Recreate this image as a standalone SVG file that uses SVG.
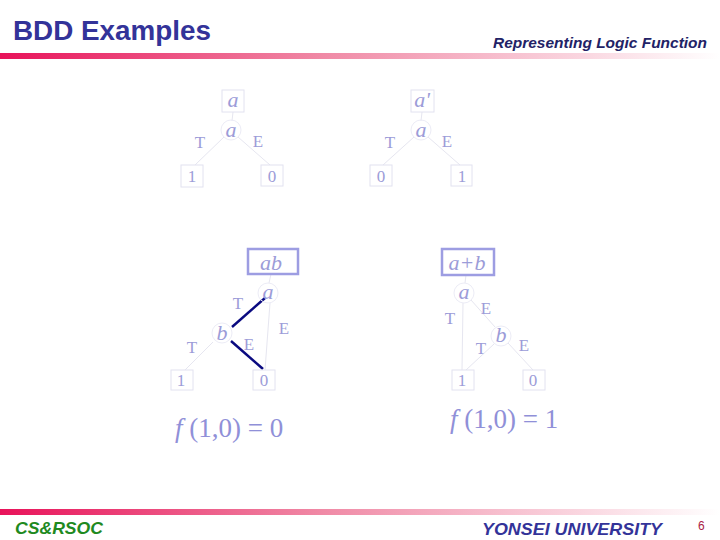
<svg xmlns="http://www.w3.org/2000/svg" width="720" height="540" viewBox="0 0 720 540">
<defs>
<linearGradient id="bar" x1="0" y1="0" x2="1" y2="0">
<stop offset="0" stop-color="#e8135a"/>
<stop offset="0.45" stop-color="#f08aa6"/>
<stop offset="1" stop-color="#ffffff"/>
</linearGradient>
<style>
.lbl{font-family:"Liberation Serif",serif;fill:#9c9cd8;font-size:17px}
.var{font-family:"Liberation Serif",serif;font-style:italic;fill:#9c9cd8;font-size:22px}
.box{fill:none;stroke:#e2e2f0;stroke-width:1}
.fbox{fill:none;stroke:#9d9de2;stroke-width:2.5}
.circ{fill:none;stroke:#ececf6;stroke-width:1}
.edge{stroke:#e6e6f0;stroke-width:1;fill:none}
.hot{stroke:#0a0a80;stroke-width:2.5;fill:none}
.fx{font-family:"Liberation Serif",serif;fill:#9090d8;font-size:27px}
</style>
</defs>
<rect width="720" height="540" fill="#ffffff"/>
<g id="header">
<text x="13" y="40" font-family="Liberation Sans,Arial,sans-serif" font-weight="bold" font-size="27" fill="#333399" textLength="198" lengthAdjust="spacingAndGlyphs">BDD Examples</text>
<text x="493" y="48" font-family="Liberation Sans,Arial,sans-serif" font-weight="bold" font-style="italic" font-size="15" fill="#222266" textLength="214" lengthAdjust="spacingAndGlyphs">Representing Logic Function</text>
<rect x="0" y="53" width="720" height="6" fill="url(#bar)"/>
</g>
<g id="connectors">
<line class="edge" x1="233" y1="112" x2="232" y2="121"/>
<line class="edge" x1="224" y1="137" x2="195" y2="165"/>
<line class="edge" x1="238" y1="137" x2="270" y2="165"/>
<line class="edge" x1="422" y1="112" x2="421" y2="121"/>
<line class="edge" x1="414" y1="137" x2="383" y2="165"/>
<line class="edge" x1="428" y1="137" x2="460" y2="165"/>
<line class="edge" x1="271" y1="274" x2="269" y2="283"/>
<line class="edge" x1="270" y1="303" x2="265" y2="370"/>
<line class="edge" x1="213" y1="342" x2="185" y2="370"/>
<line class="hot" x1="265" y1="298" x2="232" y2="327"/>
<line class="hot" x1="231" y1="341" x2="263" y2="369"/>
<line class="edge" x1="466" y1="275" x2="465" y2="283"/>
<line class="edge" x1="463" y1="303" x2="462" y2="370"/>
<line class="edge" x1="471" y1="300" x2="495" y2="327"/>
<line class="edge" x1="494" y1="344" x2="466" y2="370"/>
<line class="edge" x1="508" y1="343" x2="533" y2="370"/>
</g>
<g id="tree1">
<rect class="box" x="222" y="90" width="22" height="22"/>
<text class="var" x="233" y="107" text-anchor="middle">a</text>
<circle class="circ" cx="231" cy="130" r="10"/>
<text class="var" x="231" y="137" text-anchor="middle">a</text>
<text class="lbl" x="200" y="148" text-anchor="middle">T</text>
<text class="lbl" x="258" y="147" text-anchor="middle">E</text>
<rect class="box" x="181" y="165" width="22" height="22"/>
<text class="lbl" x="192" y="182" text-anchor="middle">1</text>
<rect class="box" x="261" y="165" width="22" height="21"/>
<text class="lbl" x="272" y="182" text-anchor="middle">0</text>
</g>
<g id="tree2">
<rect class="box" x="411" y="90" width="23" height="22"/>
<text class="var" x="422" y="107" text-anchor="middle">a'</text>
<circle class="circ" cx="421" cy="130" r="10"/>
<text class="var" x="421" y="137" text-anchor="middle">a</text>
<text class="lbl" x="390" y="148" text-anchor="middle">T</text>
<text class="lbl" x="447" y="147" text-anchor="middle">E</text>
<rect class="box" x="370" y="165" width="22" height="21"/>
<text class="lbl" x="381" y="182" text-anchor="middle">0</text>
<rect class="box" x="451" y="165" width="21" height="21"/>
<text class="lbl" x="462" y="182" text-anchor="middle">1</text>
</g>
<g id="tree3">
<rect class="fbox" x="248" y="249" width="50" height="25"/>
<text class="var" x="271" y="270" text-anchor="middle">ab</text>
<circle class="circ" cx="268" cy="293" r="10"/>
<text class="var" x="268" y="299" text-anchor="middle">a</text>
<text class="lbl" x="238" y="309" text-anchor="middle">T</text>
<text class="lbl" x="284" y="334" text-anchor="middle">E</text>
<circle class="circ" cx="222" cy="333" r="10"/>
<text class="var" x="222" y="340" text-anchor="middle">b</text>
<text class="lbl" x="192" y="353" text-anchor="middle">T</text>
<text class="lbl" x="249" y="350" text-anchor="middle">E</text>
<rect class="box" x="171" y="370" width="22" height="20"/>
<text class="lbl" x="181" y="386" text-anchor="middle">1</text>
<rect class="box" x="253" y="370" width="22" height="20"/>
<text class="lbl" x="264" y="386" text-anchor="middle">0</text>
<text class="fx" x="175" y="437"><tspan font-style="italic">f</tspan> (1,0) = 0</text>
</g>
<g id="tree4">
<rect class="fbox" x="442" y="249" width="52" height="26"/>
<text class="var" x="467" y="270" text-anchor="middle">a+b</text>
<circle class="circ" cx="464" cy="293" r="10"/>
<text class="var" x="464" y="299" text-anchor="middle">a</text>
<text class="lbl" x="450" y="324" text-anchor="middle">T</text>
<text class="lbl" x="486" y="314" text-anchor="middle">E</text>
<circle class="circ" cx="501" cy="336" r="10"/>
<text class="var" x="501" y="342" text-anchor="middle">b</text>
<text class="lbl" x="481" y="354" text-anchor="middle">T</text>
<text class="lbl" x="524" y="351" text-anchor="middle">E</text>
<rect class="box" x="452" y="370" width="22" height="20"/>
<text class="lbl" x="462" y="386" text-anchor="middle">1</text>
<rect class="box" x="523" y="370" width="22" height="20"/>
<text class="lbl" x="533" y="386" text-anchor="middle">0</text>
<text class="fx" x="450" y="428"><tspan font-style="italic">f</tspan> (1,0) = 1</text>
</g>
<g id="footer">
<rect x="0" y="509" width="720" height="6" fill="url(#bar)"/>
<text x="15" y="534" font-family="Liberation Sans,Arial,sans-serif" font-weight="bold" font-style="italic" font-size="17" fill="#1f8a1f" textLength="88" lengthAdjust="spacingAndGlyphs">CS&amp;RSOC</text>
<text x="482" y="535" font-family="Liberation Sans,Arial,sans-serif" font-weight="bold" font-style="italic" font-size="17" fill="#333399" textLength="180" lengthAdjust="spacingAndGlyphs">YONSEI UNIVERSITY</text>
<text x="698" y="530" font-family="Liberation Sans,Arial,sans-serif" font-size="12" fill="#aa2244">6</text>
</g>
</svg>
